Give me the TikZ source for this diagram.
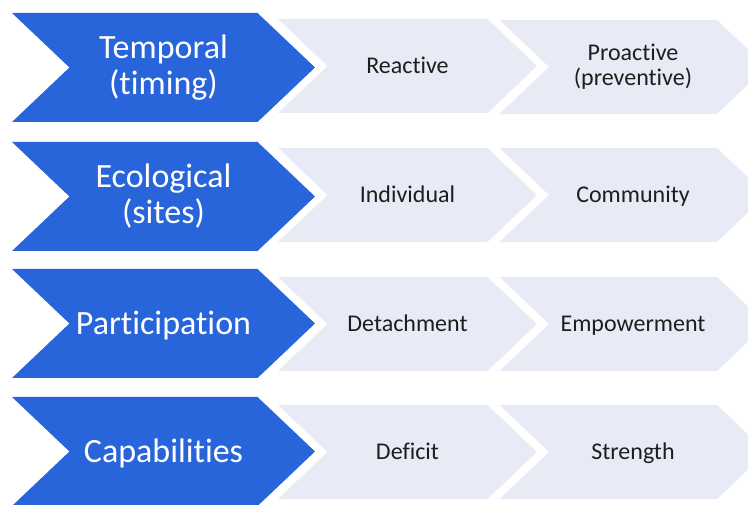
\documentclass[tikz,border=0pt]{standalone}
\usepackage{fontspec}
\setmainfont{Carlito}[Ligatures={NoCommon,NoContextual}]
\usetikzlibrary{shapes.symbols}

\definecolor{chevblue}{RGB}{40,101,218}
\definecolor{chevgray}{RGB}{232,235,245}
\definecolor{chevtext}{RGB}{30,30,30}

\begin{document}
\begin{tikzpicture}[
    x=1pt, y=-1pt,
    chevron/.style={shape=signal, signal from=west, signal to=east, signal pointer angle=87, inner sep=0pt, align=center},
    dimension/.style={chevron, fill=chevblue, text=white, minimum width=303pt, minimum height=109pt, text height=27.2pt, text depth=5.4pt, font=\fontsize{34}{36}\selectfont},
    pole/.style={chevron, fill=chevgray, text=chevtext, minimum height=94pt, text height=19.2pt, text depth=3.8pt, font=\fontsize{24}{25}\selectfont},
    twolines/.style={text height=, text depth=}
]
\clip (0,0) rectangle (748,505);

% Row 1 - temporal
\node[dimension, twolines] (temporal) at (163.5,67.5) {Temporal\\(timing)};
\node[pole, minimum width=259pt] (reactive) at (407.5,66) {Reactive};
\node[pole, minimum width=267pt, twolines] (proactive) at (633,67) {Proactive\\(preventive)};

% Row 2 - ecological
\node[dimension, twolines] (ecological) at (163.5,196.5) {Ecological\\(sites)};
\node[pole, minimum width=259pt] (individual) at (407.5,195) {Individual};
\node[pole, minimum width=267pt] (community) at (633,195) {Community};

% Row 3 - participation
\node[dimension] (participation) at (163.5,323.5) {Participation};
\node[pole, minimum width=259pt] (detachment) at (407.5,324) {Detachment};
\node[pole, minimum width=267pt] (empowerment) at (633,324) {Empowerment};

% Row 4 - capabilities
\node[dimension] (capabilities) at (163.5,451.5) {Capabilities};
\node[pole, minimum width=259pt] (deficit) at (407.5,452) {Deficit};
\node[pole, minimum width=267pt] (strength) at (633,452) {Strength};

\end{tikzpicture}
\end{document}
